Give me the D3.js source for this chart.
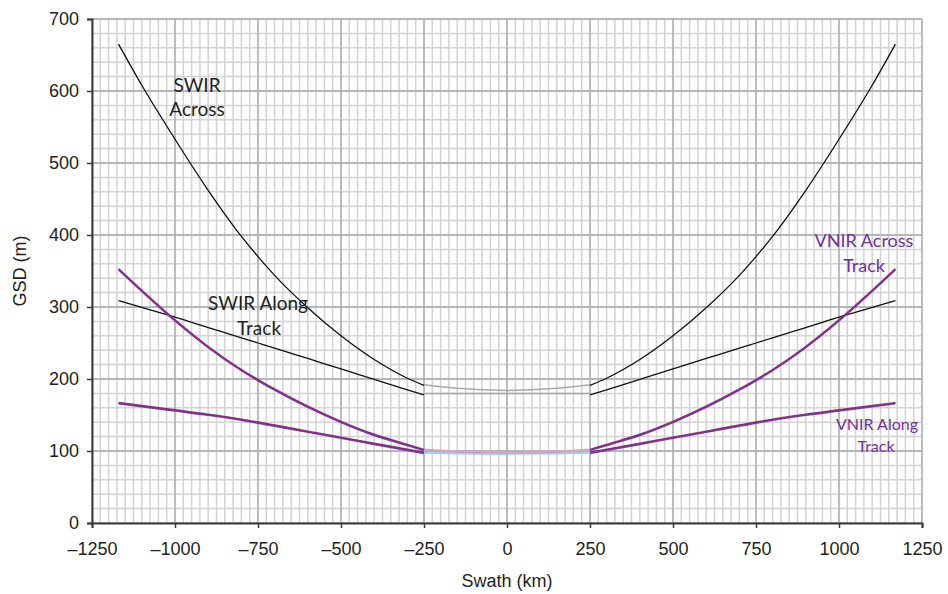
<!DOCTYPE html>
<meta charset="utf-8">
<style>
body { margin: 0; background: #fff; font-family: 'Liberation Sans', Arial, sans-serif; }
.tick text { font-family: 'Liberation Sans', Arial, sans-serif; font-size: 18px; fill: #231f20; }
.lbl { font-family: Lato, 'Open Sans', sans-serif; font-size: 18px; }
</style>
<body>
<div id="chart"></div>
<script src="https://d3js.org/d3.v7.min.js"></script>
<script>
// chart size
var width = 948,
    height = 594;
var margin = {top: 19, right: 26, bottom: 71, left: 92};

// data (km, GSD m), right half; left half is the mirror
var swath = [250, 300, 400, 500, 600, 700, 750, 800, 900, 1000, 1100, 1170];
var swirAcross = [191, 201, 227, 260, 299, 344, 370, 398, 462, 533, 608, 665];
var swirAlong = [178, 185, 199.5, 214, 228.5, 243, 250, 257, 271.5, 286, 299.5, 309];
var vnirAcross = [102, 109, 123, 141, 162, 186, 199, 213, 245, 282, 323, 353];
var vnirAlong = [98, 102.2, 110.6, 119, 127.4, 135.8, 140, 144, 151, 157, 163, 167];

// middle section (-250..250)
var midSwath = [-250, -150, 0, 150, 250];
var swirAcrossMid = [192, 187, 184, 187, 192];
var swirAlongMid = [180, 180, 180, 180, 180];
var vnirAcrossMid = [102, 99.5, 98.5, 99.5, 102];
var vnirAcrossMid2 = [101, 98.5, 97.5, 98.5, 101];
var vnirAlongMid = [97.5, 96.5, 96, 96.5, 97.5];

var xTicks = [-1250, -1000, -750, -500, -250, 0, 250, 500, 750, 1000, 1250];
var yTicks = [0, 100, 200, 300, 400, 500, 600, 700];

var x = d3.scaleLinear().domain([-1250, 1250]).range([margin.left, width - margin.right]);
var y = d3.scaleLinear().domain([0, 700]).range([height - margin.bottom, margin.top]);

var svg = d3.select("#chart").append("svg")
    .attr("width", width)
    .attr("height", height);

// minor grid
var grid = svg.append("g");
grid.selectAll(".vminor")
    .data(d3.range(-1250, 1251, 25))
  .enter().append("line")
    .attr("x1", function(d) { return x(d); })
    .attr("x2", function(d) { return x(d); })
    .attr("y1", y(0)).attr("y2", y(700))
    .attr("stroke", "#d3d3d3").attr("stroke-width", 1.5);
grid.selectAll(".hminor")
    .data(d3.range(0, 701, 20))
  .enter().append("line")
    .attr("x1", x(-1250)).attr("x2", x(1250))
    .attr("y1", function(d) { return y(d); })
    .attr("y2", function(d) { return y(d); })
    .attr("stroke", "#d3d3d3").attr("stroke-width", 1.5);
// major grid
grid.selectAll(".vmajor")
    .data(xTicks)
  .enter().append("line")
    .attr("x1", function(d) { return x(d); })
    .attr("x2", function(d) { return x(d); })
    .attr("y1", y(0)).attr("y2", y(700))
    .attr("stroke", "#a9a9b6").attr("stroke-width", 1.3);
grid.selectAll(".hmajor")
    .data(yTicks)
  .enter().append("line")
    .attr("x1", x(-1250)).attr("x2", x(1250))
    .attr("y1", function(d) { return y(d); })
    .attr("y2", function(d) { return y(d); })
    .attr("stroke", "#a9a9b6").attr("stroke-width", 1.3);

// axes
var fmt = function(d) { return d < 0 ? "\u2013" + Math.abs(d) : d; };
var xAxis = svg.append("g")
    .attr("transform", "translate(0," + y(0) + ")")
    .call(d3.axisBottom(x).tickValues(xTicks).tickFormat(fmt).tickSize(5).tickPadding(14));
var yAxis = svg.append("g")
    .attr("transform", "translate(" + x(-1250) + ",0)")
    .call(d3.axisLeft(y).tickValues(yTicks).tickSize(5).tickPadding(8));
[xAxis, yAxis].forEach(function(a) {
  a.select(".domain").attr("stroke", "#3a3a3a").attr("stroke-width", 2);
  a.selectAll(".tick line").attr("stroke", "#3a3a3a").attr("stroke-width", 1.5);
});

svg.append("text")
    .attr("x", (x(-1250) + x(1250)) / 2).attr("y", 587)
    .attr("text-anchor", "middle")
    .style("font-size", "18px").attr("fill", "#231f20")
    .text("Swath (km)");
svg.append("text")
    .attr("transform", "translate(26," + ((y(0) + y(700)) / 2) + ") rotate(-90)")
    .attr("text-anchor", "middle")
    .style("font-size", "18px").attr("fill", "#231f20")
    .text("GSD (m)");

// lines
var line = d3.line()
    .x(function(d) { return x(d[0]); })
    .y(function(d) { return y(d[1]); })
    .curve(d3.curveMonotoneX);

function side(vals, sign) {
  return swath.map(function(s, i) { return [sign * s, vals[i]]; });
}
function draw(vals, color, w, dy) {
  [1, -1].forEach(function(sign) {
    svg.append("path")
        .datum(side(vals, sign))
        .attr("d", line)
        .attr("transform", "translate(0," + (dy || 0) + ")")
        .attr("fill", "none")
        .attr("stroke", color)
        .attr("stroke-width", w);
  });
}
function drawMid(vals, color, w) {
  svg.append("path")
      .datum(midSwath.map(function(s, i) { return [s, vals[i]]; }))
      .attr("d", line)
      .attr("fill", "none")
      .attr("stroke", color)
      .attr("stroke-width", w);
}

drawMid(swirAcrossMid, "#a8a8a8", 1.5);
drawMid(swirAlongMid, "#a8a8a8", 1.5);
drawMid(vnirAlongMid, "#93d5ee", 2);
drawMid(vnirAcrossMid2, "#b9a6d6", 2);
drawMid(vnirAcrossMid, "#d9a3b6", 2);

draw(swirAcross, "#111", 1.3);
draw(swirAlong, "#111", 1.3);
draw(vnirAcross, "#5a4aa8", 1.6, 1);
draw(vnirAcross, "#8f2a80", 1.8);
draw(vnirAlong, "#5a4aa8", 1.6, 1);
draw(vnirAlong, "#8f2a80", 1.8);

// labels
var labels = [
  {t: "SWIR", x: 197, y: 92, c: "#231f20", s: 19},
  {t: "Across", x: 197, y: 116, c: "#231f20", s: 19},
  {t: "SWIR Along", x: 258, y: 310, c: "#231f20", s: 19},
  {t: "Track", x: 259, y: 335, c: "#231f20", s: 19},
  {t: "VNIR Across", x: 864, y: 247, c: "#7030a0", s: 18},
  {t: "Track", x: 864, y: 272, c: "#7030a0", s: 18},
  {t: "VNIR Along", x: 877, y: 430, c: "#7030a0", s: 16},
  {t: "Track", x: 876, y: 452, c: "#7030a0", s: 16}
];
svg.selectAll(".lbl")
    .data(labels)
  .enter().append("text")
    .attr("class", "lbl")
    .attr("x", function(d) { return d.x; })
    .attr("y", function(d) { return d.y; })
    .attr("text-anchor", "middle")
    .attr("fill", function(d) { return d.c; })
    .style("font-size", function(d) { return d.s + "px"; })
    .text(function(d) { return d.t; });
</script>
</body>
